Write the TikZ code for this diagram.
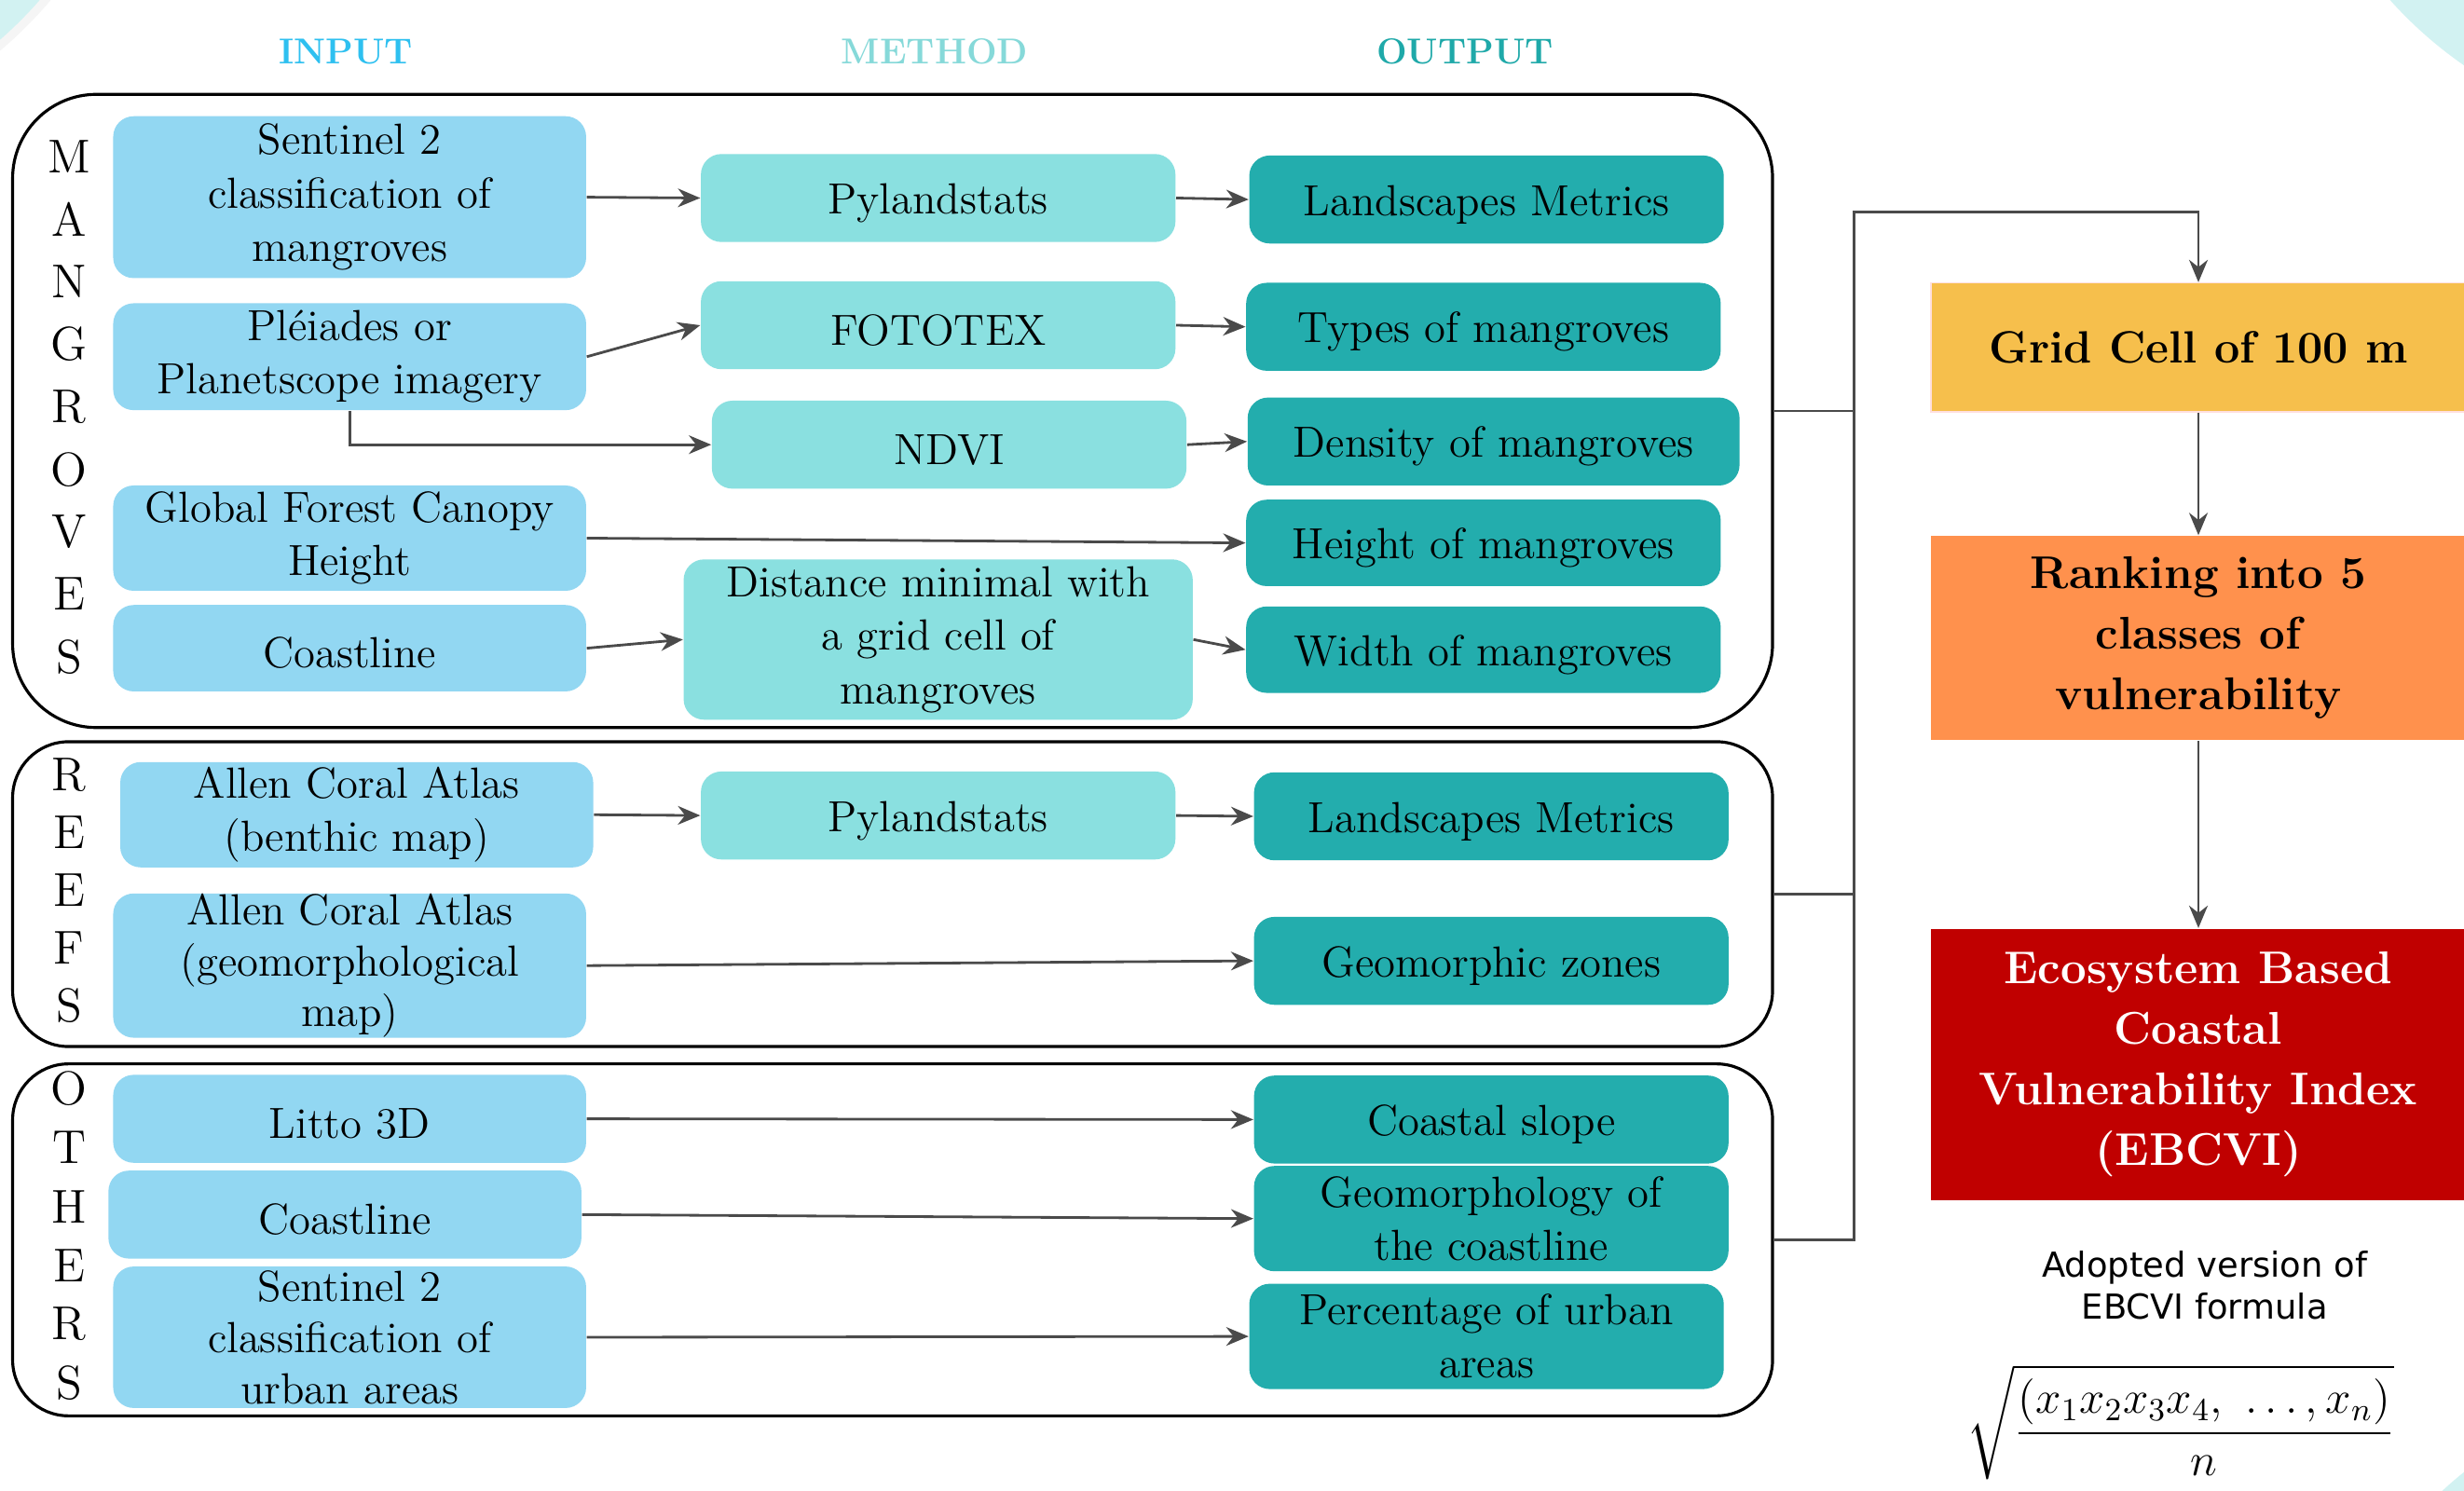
\RequirePackage{fix-cm}
\documentclass[tikz,border=0pt]{standalone}
\usepackage{amsmath}
\usepackage{fontspec}
\newfontfamily\dejavu{DejaVu Sans}
\usetikzlibrary{positioning, arrows.meta}

\definecolor{inblue}{HTML}{92D7F2}
\definecolor{methodcyan}{HTML}{8AE0E0}
\definecolor{outteal}{HTML}{23ADAD}
\definecolor{headin}{HTML}{2EC0F0}
\definecolor{headmethod}{HTML}{86D9D9}
\definecolor{headout}{HTML}{1FA9A9}
\definecolor{gridyellow}{HTML}{F6BF4C}
\definecolor{rankorange}{HTML}{FF914D}
\definecolor{indexred}{HTML}{C00000}
\definecolor{bgcyan}{HTML}{D2F2F2}
\definecolor{linegray}{HTML}{4A4A4A}

\tikzset{
  box/.style={rounded corners=0.22cm, align=center, inner sep=0pt, minimum height=0.944cm, font=\fontsize{13.3}{16.3}\selectfont, execute at begin node={\rule{0pt}{12.4pt}}},
  inbox/.style={box, fill=inblue, minimum width=5.075cm},
  methodbox/.style={box, fill=methodcyan, minimum width=5.092cm},
  outbox/.style={box, fill=outteal, minimum width=5.092cm},
  groupframe/.style={draw=black, line width=0.9pt, rounded corners=0.6cm, minimum width=18.885cm},
  letter/.style={font=\fontsize{14.5}{17}\selectfont, inner sep=0pt},
  head/.style={font=\fontsize{11}{13}\selectfont\bfseries},
  stage/.style={align=center, inner sep=0pt, minimum width=5.74cm, font=\fontsize{14}{18.5}\selectfont\bfseries},
  link/.style={draw=linegray, line width=0.8pt, -{Stealth[length=2.4mm,width=2mm]}},
  bus/.style={draw=linegray, line width=0.8pt},
}

\begin{document}
\begin{tikzpicture}

\useasboundingbox (0,0) rectangle (26.44,-16);
\fill[white] (0,0) rectangle (26.44,-16);

\begin{scope}
\clip (0,0) rectangle (26.44,-16);
\fill[bgcyan, draw=black!4, line width=2.5pt] (-3,3) circle (4.6);
\fill[bgcyan] (29,3) circle (4.5);
\fill[bgcyan] (29,-19) circle (4.1);
\end{scope}

\node[head, text=headin] (head-input) at (3.71,-0.556) {INPUT};
\node[head, text=headmethod] (head-method) at (10.03,-0.556) {METHOD};
\node[head, text=headout] (head-output) at (15.72,-0.556) {OUTPUT};

\node[groupframe, minimum height=6.795cm, rounded corners=0.9cm] (mangroves) at (9.578,-4.41) {};
\node[groupframe, minimum height=3.271cm] (reefs) at (9.578,-9.595) {};
\node[groupframe, minimum height=3.777cm] (others) at (9.578,-13.305) {};

\foreach \l [count=\i from 0] in {M,A,N,G,R,O,V,E,S}
  \node[letter] (mangroves-\i) at (0.742,-1.686-0.67*\i) {\l};
\foreach \l [count=\i from 0] in {R,E,E,F,S}
  \node[letter] (reefs-\i) at (0.742,-8.313-0.62*\i) {\l};
\foreach \l [count=\i from 0] in {O,T,H,E,R,S}
  \node[letter] (others-\i) at (0.742,-11.685-0.631*\i) {\l};

% mangroves
\node[inbox, minimum height=1.737cm] (sentinel) at (3.752,-2.116) {Sentinel 2\\classification of\\mangroves};
\node[inbox, minimum height=1.147cm] (pleiades) at (3.752,-3.828) {Pléiades or\\Planetscope imagery};
\node[inbox, minimum height=1.13cm] (canopy) at (3.752,-5.775) {Global Forest Canopy\\Height};
\node[inbox, minimum height=0.927cm] (coast-m) at (3.752,-6.956) {Coastline};

\node[methodbox] (pyland-m) at (10.067,-2.125) {Pylandstats};
\node[methodbox] (fototex) at (10.067,-3.49) {FOTOTEX};
\node[methodbox] (ndvi) at (10.185,-4.772) {NDVI};
\node[methodbox, minimum width=5.463cm, minimum height=1.72cm] (distance) at (10.067,-6.863) {Distance minimal with\\a grid cell of\\mangroves};

\node[outbox] (metrics-m) at (15.951,-2.141) {Landscapes Metrics};
\node[outbox] (types) at (15.918,-3.507) {Types of mangroves};
\node[outbox, minimum width=5.278cm] (density) at (16.027,-4.738) {Density of mangroves};
\node[outbox, minimum height=0.927cm] (out-height) at (15.918,-5.826) {Height of mangroves};
\node[outbox, minimum height=0.927cm] (out-width) at (15.918,-6.972) {Width of mangroves};

\draw[link] (sentinel.east) -- (pyland-m.west);
\draw[link] (pleiades.east) -- (fototex.west);
\draw[link] (pleiades.south) |- (ndvi.west);
\draw[link] (canopy.east) -- (out-height.west);
\draw[link] (coast-m.east) -- (distance.west);
\draw[link] (pyland-m.east) -- (metrics-m.west);
\draw[link] (fototex.east) -- (types.west);
\draw[link] (ndvi.east) -- (density.west);
\draw[link] (distance.east) -- (out-width.west);

% reefs
\node[inbox, minimum height=1.13cm] (benthic) at (3.828,-8.743) {Allen Coral Atlas\\(benthic map)};
\node[inbox, minimum height=1.534cm, font=\fontsize{13.3}{15.6}\selectfont] (geomorph-map) at (3.752,-10.362) {Allen Coral Atlas\\(geomorphological\\map)};
\node[methodbox] (pyland-r) at (10.067,-8.751) {Pylandstats};
\node[outbox] (metrics-r) at (16.002,-8.76) {Landscapes Metrics};
\node[outbox] (zones) at (16.002,-10.311) {Geomorphic zones};

\draw[link] (benthic.east) -- (pyland-r.west);
\draw[link] (pyland-r.east) -- (metrics-r.west);
\draw[link] (geomorph-map.east) -- (zones.west);

% others
\node[inbox] (litto) at (3.752,-12.006) {Litto 3D};
\node[inbox] (coast-o) at (3.701,-13.034) {Coastline};
\node[inbox, minimum height=1.518cm, font=\fontsize{13.3}{15.6}\selectfont] (urban) at (3.752,-14.35) {Sentinel 2\\classification of\\urban areas};
\node[outbox] (slope) at (16.002,-12.014) {Coastal slope};
\node[outbox, minimum height=1.13cm] (geomorph-coast) at (16.002,-13.077) {Geomorphology of\\the coastline};
\node[outbox, minimum height=1.13cm] (urban-pct) at (15.951,-14.341) {Percentage of urban\\areas};

\draw[link] (litto.east) -- (slope.west);
\draw[link] (coast-o.east) -- (geomorph-coast.west);
\draw[link] (urban.east) -- (urban-pct.west);

% index
\node[stage, fill=gridyellow, draw=pink!50, minimum height=1.383cm, font=\fontsize{13.8}{16}\selectfont\bfseries] (grid) at (23.59,-3.727) {Grid Cell of 100 m};
\node[stage, fill=rankorange, minimum height=2.192cm] (ranking) at (23.59,-6.846) {Ranking into 5\\classes of\\vulnerability};
\node[stage, fill=indexred, text=white, minimum height=2.917cm] (ebcvi) at (23.59,-11.424) {Ecosystem Based\\Coastal\\Vulnerability Index\\(EBCVI)};

\coordinate (bus-top) at (19.897,-2.276);
\draw[bus] (mangroves.east) -- (mangroves.east -| bus-top);
\draw[bus] (reefs.east) -- (reefs.east -| bus-top);
\draw[link] (others.east) -| (bus-top) -| (grid.north);
\draw[link] (grid) -- (ranking);
\draw[link] (ranking) -- (ebcvi);

\node[font=\dejavu\fontsize{10.5}{12.6}\selectfont, align=center] (formula-label) at (23.657,-13.793) {Adopted version of\\EBCVI formula};
\node[font=\fontsize{14}{17}\selectfont] (formula) at (23.4,-15.26) {$\displaystyle\sqrt{\frac{(x_1x_2x_3x_4,\ \dots, x_n)}{n}}$};

\end{tikzpicture}
\end{document}
